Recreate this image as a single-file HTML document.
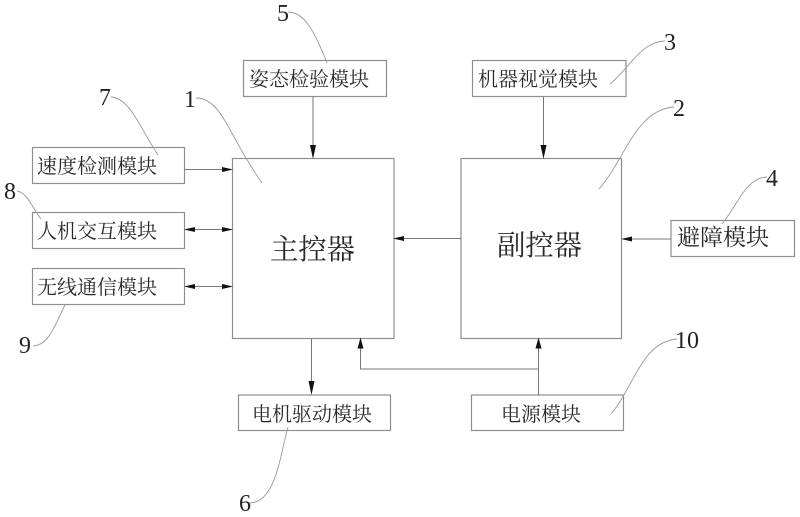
<!DOCTYPE html>
<html><head><meta charset="utf-8"><style>
html,body{margin:0;padding:0;background:#fff}
svg{display:block}
text{font-family:"Liberation Serif","Noto Serif CJK SC",serif;fill:#2a2a2a}
.t{font-size:20px}
.m{font-size:28.5px}
.n{font-size:24px;fill:#222}
.b{fill:#fff;stroke:#8e8e8e;stroke-width:1.2}
.l{fill:none;stroke:#777;stroke-width:1}
.c{fill:none;stroke:#999;stroke-width:.9}
.a{fill:#111}
</style></head><body>
<svg width="800" height="517" viewBox="0 0 800 517" xmlns="http://www.w3.org/2000/svg" style="filter:blur(.35px)">
<rect width="800" height="517" fill="#fff"/>
<rect class="b" x="243.5" y="60.5" width="143" height="36"/>
<rect class="b" x="32.5" y="147.5" width="152" height="36"/>
<rect class="b" x="32.5" y="212.5" width="152" height="36"/>
<rect class="b" x="32.5" y="268.5" width="152" height="36"/>
<rect class="b" x="232.5" y="158.5" width="161.5" height="180"/>
<rect class="b" x="461" y="158.5" width="160.5" height="180"/>
<rect class="b" x="472.5" y="60.5" width="153.5" height="36"/>
<rect class="b" x="671" y="220.5" width="123.5" height="36"/>
<rect class="b" x="238.5" y="395" width="152" height="35.5"/>
<rect class="b" x="471.5" y="395" width="152" height="35.5"/>

<path class="l" d="M313 97V150M543.500 97V150M184 169.500H224M190 229.500H224M190 286.500H224M461 238.500H402M671 239H630M311.500 338.500V387M538.500 395V346M538.500 369H360.500V346"/>
<path class="a" d="M313 159L310 145H316ZM543.500 159L540.500 145H546.500ZM233 169.500L222 167V172ZM233 229.500L222 227V232ZM233 286.500L222 284V289ZM184 229.500L195 227V232ZM184 286.500L195 284V289ZM393 238.500L404 236V241ZM621 239L632 236.500V241.500ZM311.500 395L308.500 381H314.500ZM538.500 337.500L535.500 348.500H541.500ZM360.500 337.500L357.500 348.500H363.500Z"/>

<path class="c" d="M288 12C304 12 314 30 327 63"/>
<path class="c" d="M111 97C130 98 140 128 158 155"/>
<path class="c" d="M196 98C222 98 228 135 262 183"/>
<path class="c" d="M17 191C28 193 32 208 41 219"/>
<path class="c" d="M65 305C56 322 50 345 33 346"/>
<path class="c" d="M288 427C280 455 276 502 250 503"/>
<path class="c" d="M610 84C630 68 640 42 665 41"/>
<path class="c" d="M599 189C625 160 635 110 674 107"/>
<path class="c" d="M722 224C738 205 745 178 767 177"/>
<path class="c" d="M611 414C635 385 642 342 677 339"/>

<text class="t" x="249" y="86" textLength="120">姿态检验模块</text>
<text class="t" x="37" y="173" textLength="120">速度检测模块</text>
<text class="t" x="37" y="238" textLength="120">人机交互模块</text>
<text class="t" x="37" y="294" textLength="120">无线通信模块</text>
<text class="t" x="478" y="86" textLength="120">机器视觉模块</text>
<text class="t" x="677" y="245" style="font-size:23px" textLength="92">避障模块</text>
<text class="t" x="252" y="421" textLength="120">电机驱动模块</text>
<text class="t" x="501" y="421" textLength="80">电源模块</text>
<text class="m" x="270" y="259" textLength="85">主控器</text>
<text class="m" x="497" y="255" textLength="85">副控器</text>

<text class="n" x="277" y="21">5</text>
<text class="n" x="99" y="105">7</text>
<text class="n" x="184" y="107">1</text>
<text class="n" x="4" y="199">8</text>
<text class="n" x="19" y="353">9</text>
<text class="n" x="239" y="511">6</text>
<text class="n" x="664" y="50">3</text>
<text class="n" x="673" y="116">2</text>
<text class="n" x="766" y="186">4</text>
<text class="n" x="675" y="348">10</text>
</svg>
</body></html>
